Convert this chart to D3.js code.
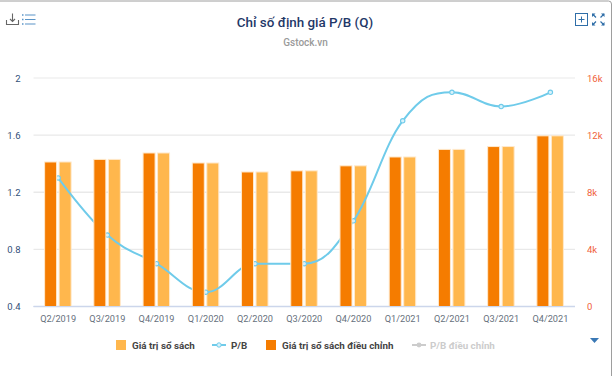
<!DOCTYPE html>
<html>
<head>
<meta charset="utf-8">
<script src="https://cdn.jsdelivr.net/npm/d3@7/dist/d3.min.js"></script>
<style>
  html, body { margin: 0; padding: 0; background: #fff; overflow: hidden; }
  svg { display: block; font-family: Roboto, sans-serif; }
</style>
</head>
<body>
<svg id="chart" width="614" height="376"></svg>
<script>
  // === Datos ===
  const quarters = ['Q2/2019','Q3/2019','Q4/2019','Q1/2020','Q2/2020','Q3/2020','Q4/2020','Q1/2021','Q2/2021','Q3/2021','Q4/2021'];
  const giaTriSoSach = [10120,10300,10750,10050,9420,9500,9850,10470,11000,11200,11950];
  const giaTriDieuChinh = [10120,10300,10750,10050,9420,9500,9850,10470,11000,11200,11950];
  const pb = [1.3,0.9,0.7,0.5,0.7,0.7,1.0,1.7,1.9,1.8,1.9];
  const pbTicks = [0.4,0.8,1.2,1.6,2];
  const valueTicks = [0,4000,8000,12000,16000];

  const svg = d3.select('#chart');

  // === Escalas ===
  const x = d3.scaleBand().domain(quarters).range([33.5, 575]);
  const yPb = d3.scaleLinear().domain([0.4, 2]).range([306.5, 78]);
  const yVal = d3.scaleLinear().domain([0, 16000]).range([306.5, 78]);
  const fmtK = d => d === 0 ? '0' : (d / 1000) + 'k';

  // curva tipo spline (tangente plana en extremos locales)
  function curveSpline(context) {
    let pts;
    return {
      areaStart() {}, areaEnd() {},
      lineStart() { pts = []; },
      point(px, py) { pts.push([px, py]); },
      lineEnd() {
        const s = 1.5, den = s + 1;
        let prevX, prevY;
        pts.forEach((p, i) => {
          const [px, py] = p, a = pts[i - 1], b = pts[i + 1];
          let lx = px, ly = py, rx = px, ry = py;
          if (a && b) {
            lx = (s * px + a[0]) / den; ly = (s * py + a[1]) / den;
            rx = (s * px + b[0]) / den; ry = (s * py + b[1]) / den;
            const c = ((ry - ly) * (rx - px)) / (rx - lx) + py - ry;
            ly += c; ry += c;
            if (ly > a[1] && ly > py) { ly = Math.max(a[1], py); ry = 2 * py - ly; }
            else if (ly < a[1] && ly < py) { ly = Math.min(a[1], py); ry = 2 * py - ly; }
            if (ry > b[1] && ry > py) { ry = Math.max(b[1], py); ly = 2 * py - ry; }
            else if (ry < b[1] && ry < py) { ry = Math.min(b[1], py); ly = 2 * py - ry; }
          }
          if (i === 0) context.moveTo(px, py);
          else context.bezierCurveTo(prevX, prevY, lx, ly, px, py);
          prevX = rx; prevY = ry;
        });
      }
    };
  }

  // marco
  svg.append('rect').attr('x', -4).attr('y', 1).attr('width', 615.5).attr('height', 390).attr('rx', 3)
    .attr('fill', '#fff').attr('stroke', '#9e9e9e').attr('stroke-width', 1);

  // === Iconos ===
  const icons = svg.append('g').attr('fill', 'none');
  icons.append('path').attr('d', 'M6.5,20v4.5h12V20M12.5,13.5v8M10,19l2.5,2.5L15,19').attr('stroke', '#666').attr('stroke-width', 1.1);
  icons.append('path').attr('d', 'M25,15h10.5M25,19.5h10.5M25,24h10.5').attr('stroke', '#5a94c8').attr('stroke-width', 1.1);
  icons.append('path').attr('d', 'M22,15h1.5M22,19.5h1.5M22,24h1.5').attr('stroke', '#5a94c8').attr('stroke-width', 1.4);
  icons.append('rect').attr('x', 575.5).attr('y', 13.5).attr('width', 12).attr('height', 12).attr('stroke', '#2f6ea8').attr('stroke-width', 1);
  icons.append('path').attr('d', 'M578.5,19.5h6M581.5,16.5v6').attr('stroke', '#2f6ea8').attr('stroke-width', 1);
  icons.append('path').attr('d', 'M592.5,14l3.5,3.5M604,14l-3.5,3.5M592.5,25l3.5,-3.5M604,25l-3.5,-3.5').attr('stroke', '#2f6ea8').attr('stroke-width', 1.2);
  icons.append('path').attr('d', 'M592,13.5h3.5l-3.5,3.5zM604.5,13.5h-3.5l3.5,3.5zM592,25.5h3.5l-3.5,-3.5zM604.5,25.5h-3.5l3.5,-3.5z').attr('fill', '#2f6ea8');

  // === Titulos ===
  svg.append('text').attr('x', 305).attr('y', 27).attr('text-anchor', 'middle')
    .attr('font-size', 13.4).attr('font-weight', 500).attr('fill', '#1f3868').text('Chỉ số định giá P/B (Q)');
  svg.append('text').attr('x', 305.5).attr('y', 46).attr('text-anchor', 'middle')
    .attr('font-size', 10).attr('font-weight', 500).attr('fill', '#9a9a9a').text('Gstock.vn');

  // === Grilla y ejes ===
  svg.append('g').selectAll('line').data(pbTicks).join('line')
    .attr('x1', 33.5).attr('x2', 575).attr('y1', d => yPb(d)).attr('y2', d => yPb(d))
    .attr('stroke', d => d === 0.4 ? '#ccd6eb' : '#e9e9e9').attr('stroke-width', d => d === 2 ? 1 : 1.4);

  const axisL = svg.append('g').attr('transform', 'translate(33.5,0)')
    .call(d3.axisLeft(yPb).tickValues(pbTicks).tickSize(0).tickPadding(13).tickFormat(d => d));
  axisL.select('.domain').remove();
  axisL.selectAll('text').attr('font-size', 9.5).attr('font-family', 'Roboto, sans-serif').attr('fill', '#33507a');

  const axisR = svg.append('g').attr('transform', 'translate(575,0)')
    .call(d3.axisRight(yVal).tickValues(valueTicks).tickSize(0).tickPadding(12).tickFormat(fmtK));
  axisR.select('.domain').remove();
  axisR.selectAll('text').attr('font-size', 9.5).attr('font-family', 'Roboto, sans-serif').attr('fill', '#f0613a');

  const axisB = svg.append('g').attr('transform', 'translate(0,306.5)')
    .call(d3.axisBottom(x).tickSize(0).tickPadding(9));
  axisB.select('.domain').remove();
  axisB.selectAll('text').attr('font-size', 9.2).attr('font-family', 'Roboto, sans-serif').attr('fill', '#66707c');

  // === Series: claro, linea, oscuro ===
  const barW = 12;
  svg.append('g').selectAll('rect').data(quarters).join('rect')
    .attr('x', d => x(d) + x.bandwidth() / 2 + 1)
    .attr('y', (d, i) => yVal(giaTriSoSach[i]))
    .attr('width', barW).attr('height', (d, i) => yVal(0) - yVal(giaTriSoSach[i]))
    .attr('fill', '#ffb74d').attr('stroke', '#ffe9cc').attr('stroke-width', 1);

  const line = d3.line().x((d, i) => x(quarters[i]) + x.bandwidth() / 2).y(d => yPb(d)).curve(curveSpline);
  svg.append('path').attr('d', line(pb)).attr('fill', 'none').attr('stroke', '#6fcbea').attr('stroke-width', 2);
  svg.append('g').selectAll('circle').data(pb).join('circle')
    .attr('cx', (d, i) => x(quarters[i]) + x.bandwidth() / 2).attr('cy', d => yPb(d)).attr('r', 2.2)
    .attr('fill', '#d8f2fb').attr('stroke', '#6fcbea').attr('stroke-width', 1.1);

  svg.append('g').selectAll('rect').data(quarters).join('rect')
    .attr('x', d => x(d) + x.bandwidth() / 2 - barW - 1.5)
    .attr('y', (d, i) => yVal(giaTriDieuChinh[i]))
    .attr('width', barW).attr('height', (d, i) => yVal(0) - yVal(giaTriDieuChinh[i]))
    .attr('fill', '#f57c00').attr('stroke', '#ffe9cc').attr('stroke-width', 1);

  svg.append('line').attr('x1', 33.5).attr('x2', 575).attr('y1', 306.5).attr('y2', 306.5)
    .attr('stroke', '#ccd6eb').attr('stroke-width', 1);

  // === Leyenda ===
  const legend = svg.append('g').attr('font-size', 9.8).attr('font-weight', 700);
  legend.append('rect').attr('x', 116).attr('y', 340).attr('width', 10).attr('height', 10).attr('fill', '#ffb74d');
  legend.append('text').attr('x', 132).attr('y', 349).attr('fill', '#444').text('Giá trị sổ sách');
  legend.append('line').attr('x1', 212).attr('x2', 226).attr('y1', 345).attr('y2', 345).attr('stroke', '#6fcbea').attr('stroke-width', 2);
  legend.append('circle').attr('cx', 219).attr('cy', 345).attr('r', 2.2).attr('fill', '#d8f2fb').attr('stroke', '#6fcbea');
  legend.append('text').attr('x', 231).attr('y', 349).attr('fill', '#444').text('P/B');
  legend.append('rect').attr('x', 266).attr('y', 340).attr('width', 10).attr('height', 10).attr('fill', '#f57c00');
  legend.append('text').attr('x', 282).attr('y', 349).attr('fill', '#444').text('Giá trị sổ sách điều chỉnh');
  legend.append('line').attr('x1', 412).attr('x2', 426).attr('y1', 345).attr('y2', 345).attr('stroke', '#cccccc').attr('stroke-width', 2);
  legend.append('circle').attr('cx', 419).attr('cy', 345).attr('r', 2.4).attr('fill', '#cccccc');
  legend.append('text').attr('x', 430).attr('y', 349).attr('fill', '#cccccc').text('P/B điều chỉnh');
  svg.append('path').attr('d', 'M590,338h9l-4.5,5z').attr('fill', '#3a78b5');
</script>
</body>
</html>
